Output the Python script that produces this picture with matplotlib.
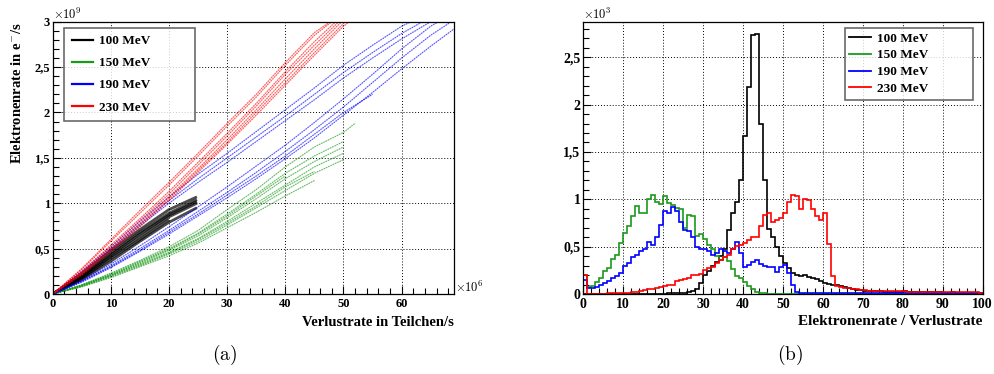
import numpy as np
import matplotlib
matplotlib.use("Agg")
import matplotlib.pyplot as plt
from matplotlib.lines import Line2D
from matplotlib.ticker import MultipleLocator, FuncFormatter

plt.rcParams['font.family'] = ['Liberation Serif', 'DejaVu Serif']
plt.rcParams['font.weight'] = 'bold'
plt.rcParams['mathtext.fontset'] = 'cm'

# ---------------- data: left panel (trajectories, x in 1e6, y in 1e9) ----------------
labels = ['100 MeV', '150 MeV', '190 MeV', '230 MeV']
colors = ['#000000', '#1a9a1a', '#0000ff', '#ff0000']

x100 = [0, 5, 10, 15, 20, 24.8]
y100 = [
    [0, 0.22, 0.48, 0.71, 0.93, 1.07],
    [0, 0.20, 0.45, 0.68, 0.89, 1.04],
    [0, 0.19, 0.43, 0.66, 0.87, 1.02],
    [0, 0.18, 0.41, 0.63, 0.85, 1.00],
    [0, 0.17, 0.39, 0.60, 0.82],
    [0, 0.16, 0.36, 0.58, 0.79, 0.95],
]

x150 = [0, 5, 10, 15, 20, 25, 30, 35, 40, 45, 50, 52]
y150 = [
    [0, 0.10, 0.23, 0.37, 0.52, 0.70, 0.93, 1.15, 1.40, 1.62, 1.78, 1.88],
    [0, 0.10, 0.22, 0.36, 0.50, 0.67, 0.88, 1.10, 1.33, 1.52, 1.68],
    [0, 0.09, 0.21, 0.34, 0.48, 0.64, 0.84, 1.05, 1.27, 1.46, 1.62],
    [0, 0.09, 0.20, 0.33, 0.46, 0.61, 0.80, 1.00, 1.20, 1.40, 1.55],
    [0, 0.08, 0.19, 0.31, 0.44, 0.58, 0.76, 0.95, 1.14, 1.33, 1.48],
    [0, 0.08, 0.18, 0.30, 0.42, 0.56, 0.73, 0.90, 1.08, 1.25],
    [0, 0.09, 0.20, 0.32, 0.45, 0.60, 0.78, 0.97, 1.18, 1.35],
    [0, 0.10, 0.21, 0.35, 0.49, 0.66, 0.86, 1.08, 1.30],
]

x190 = [0, 5, 10, 15, 20, 25, 30, 35, 40, 45, 50, 55, 60, 65, 69]
y190 = [
    [0, 0.15, 0.33, 0.53, 0.74, 0.96, 1.18, 1.41, 1.64, 1.89, 2.15, 2.42, 2.70, 2.95, 3.10],
    [0, 0.14, 0.31, 0.50, 0.70, 0.91, 1.12, 1.34, 1.57, 1.81, 2.06, 2.33, 2.60, 2.85, 3.02],
    [0, 0.13, 0.29, 0.47, 0.66, 0.86, 1.06, 1.27, 1.49, 1.72, 1.97, 2.22, 2.48, 2.73, 2.92],
    [0, 0.14, 0.30, 0.48, 0.68, 0.88, 1.09, 1.30, 1.52, 1.76, 2.00, 2.20],
    [0, 0.25, 0.52, 0.80, 1.07, 1.32, 1.55, 1.79, 2.03, 2.27, 2.52, 2.74, 2.95, 3.10],
    [0, 0.24, 0.50, 0.77, 1.03, 1.27, 1.50, 1.73, 1.96, 2.20, 2.44, 2.66, 2.87, 3.05],
    [0, 0.24, 0.49, 0.75, 1.00, 1.23, 1.45, 1.68, 1.91, 2.14, 2.38, 2.60, 2.81, 3.00],
]

x230 = [0, 5, 10, 15, 20, 25, 30, 35, 40, 45, 50, 52]
y230 = [
    [0, 0.24, 0.52, 0.81, 1.10, 1.42, 1.74, 2.07, 2.42, 2.74, 3.05, 3.15],
    [0, 0.23, 0.50, 0.78, 1.07, 1.38, 1.70, 2.03, 2.37, 2.70, 3.02, 3.12],
    [0, 0.22, 0.48, 0.76, 1.05, 1.36, 1.67, 2.00, 2.33, 2.66, 2.98, 3.10],
    [0, 0.25, 0.54, 0.83, 1.13, 1.45, 1.77, 2.10, 2.45, 2.78, 3.08],
    [0, 0.21, 0.47, 0.74, 1.03, 1.34, 1.65, 1.97, 2.30, 2.63, 2.95, 3.05],
    [0, 0.28, 0.60, 0.92, 1.23, 1.55, 1.88, 2.20, 2.55, 2.88, 3.10],
    [0, 0.27, 0.58, 0.89, 1.20, 1.52, 1.85, 2.17, 2.52, 2.85, 3.10],
]

# ---------------- data: right panel (histograms, counts in 1e3, bin width 1) ----------------
bin_edges = np.arange(0, 101, 1)

h100 = [0.003] * 20 + [0.005, 0.006, 0.007, 0.008,
        0.01, 0.015, 0.02, 0.03, 0.05, 0.12, 0.20, 0.24, 0.30, 0.34, 0.40, 0.48,
        0.68, 0.85, 0.97, 1.20, 1.67, 2.19, 2.73, 2.74, 1.79, 1.20, 0.69, 0.60,
        0.50, 0.40, 0.33, 0.27, 0.22, 0.20, 0.19, 0.20, 0.18, 0.17, 0.16, 0.14,
        0.12, 0.11, 0.10, 0.09, 0.08, 0.07, 0.06, 0.05, 0.045, 0.04, 0.035, 0.035,
        0.03, 0.03, 0.03, 0.025, 0.025, 0.02, 0.025, 0.02, 0.03, 0.02, 0.02, 0.025,
        0.02, 0.02, 0.02, 0.018, 0.02, 0.018, 0.015, 0.015, 0.018, 0.015, 0.012,
        0.015, 0.012, 0.012, 0.01, 0.01]

h150 = [0.20, 0.07, 0.08, 0.13, 0.17, 0.24, 0.27, 0.37, 0.41, 0.54,
        0.64, 0.72, 0.82, 0.93, 0.86, 0.85, 1.00, 1.05, 0.97, 0.95,
        1.03, 0.96, 0.94, 0.91, 0.90, 0.70, 0.83, 0.82, 0.61, 0.63,
        0.58, 0.52, 0.47, 0.40, 0.36, 0.39, 0.35, 0.26, 0.19, 0.17,
        0.13, 0.08, 0.05, 0.02, 0.015, 0.01] + [0.004] * 54

h190 = [0.15, 0.06, 0.06, 0.07, 0.10, 0.12, 0.14, 0.17, 0.19, 0.22,
        0.30, 0.33, 0.39, 0.41, 0.45, 0.48, 0.55, 0.52, 0.60, 0.73,
        0.88, 0.86, 0.92, 0.88, 0.76, 0.68, 0.66, 0.60, 0.50, 0.48,
        0.47, 0.45, 0.41, 0.43, 0.48, 0.45, 0.43, 0.48, 0.55, 0.43,
        0.29, 0.31, 0.34, 0.36, 0.32, 0.30, 0.28, 0.28, 0.23, 0.29,
        0.31, 0.22, 0.10, 0.02] + [0.015] * 20 + [0.01] * 26

h230 = [0.20, 0.005, 0.005, 0.005, 0.005, 0.005, 0.006, 0.007, 0.008, 0.009,
        0.01, 0.015, 0.02, 0.025, 0.03, 0.04, 0.05, 0.055, 0.06, 0.07,
        0.08, 0.09, 0.10, 0.14, 0.15, 0.16, 0.17, 0.20, 0.20, 0.21,
        0.25, 0.27, 0.29, 0.33, 0.36, 0.39, 0.41, 0.47, 0.51, 0.52,
        0.54, 0.57, 0.60, 0.60, 0.72, 0.83, 0.85, 0.76, 0.78, 0.80,
        0.85, 0.97, 1.05, 1.03, 0.90, 1.00, 0.99, 0.90, 0.82, 0.78,
        0.85, 0.53, 0.19, 0.08, 0.07, 0.06, 0.06, 0.05, 0.05, 0.045,
        0.04, 0.035, 0.035, 0.035, 0.03, 0.03, 0.03, 0.03, 0.03, 0.03,
        0.03, 0.025, 0.025, 0.025, 0.025, 0.025, 0.025, 0.025, 0.025, 0.025,
        0.025, 0.025, 0.025, 0.025, 0.025, 0.025, 0.025, 0.025, 0.02, 0.01]

# ---------------- figure ----------------
fig = plt.figure(figsize=(9.94, 3.74), dpi=100)
axL = fig.add_axes([0.0530, 0.2139, 0.4037, 0.7281])
axR = fig.add_axes([0.5868, 0.2139, 0.4018, 0.7281])


def comma_fmt(v, pos):
    if abs(v - round(v)) < 1e-9:
        return '%d' % round(v)
    return ('%g' % v).replace('.', ',')


def style_axes(ax, fs):
    ax.tick_params(which='both', direction='in', top=False, right=False,
                   labelsize=fs, width=0.8)
    ax.tick_params(which='major', length=6)
    ax.tick_params(which='minor', length=4)
    ax.tick_params(axis='x', pad=3)
    ax.tick_params(axis='y', pad=2)
    ax.grid(True, which='major', linestyle=(0, (1, 2)), color='black', linewidth=0.7)
    ax.set_axisbelow(True)
    for s in ax.spines.values():
        s.set_linewidth(0.9)
    for t in ax.get_xticklabels() + ax.get_yticklabels():
        t.set_fontweight('bold')


# ---- left panel ----
series_L = [(x100, y100), (x150, y150), (x190, y190), (x230, y230)]
for (xs, ys), c in zip(series_L, colors):
    for yy in ys:
        xx = xs[:len(yy)]
        if c == '#000000':
            axL.plot(xx, yy, color=c, lw=2.0, alpha=0.7, solid_capstyle='butt')
        else:
            axL.plot(xx, yy, color=c, lw=0.9, alpha=0.55, linestyle=(0, (1, 1.0)))
            axL.plot(xx, yy, color=c, lw=0.45, alpha=0.4)

axL.set_xlim(0, 69)
axL.set_ylim(0, 3)
axL.xaxis.set_major_locator(MultipleLocator(10))
axL.xaxis.set_minor_locator(MultipleLocator(2))
axL.yaxis.set_major_locator(MultipleLocator(0.5))
axL.yaxis.set_minor_locator(MultipleLocator(0.1))
axL.yaxis.set_major_formatter(FuncFormatter(comma_fmt))
style_axes(axL, 9)

handles = [Line2D([], [], color=c, lw=1.6) for c in colors]
legL = axL.legend(handles, labels, loc='upper left', bbox_to_anchor=(0.029, 0.651, 0.3256, 0.327),
                  mode='expand', fontsize=9.5, frameon=True, fancybox=False,
                  handlelength=1.6, handletextpad=0.5, labelspacing=0.75,
                  borderpad=0.55, borderaxespad=0)
legL.get_frame().set_edgecolor('#444444')
legL.get_frame().set_linewidth(1.2)
for t in legL.get_texts():
    t.set_fontweight('bold')

axL.text(1.0, -0.1175, 'Verlustrate in Teilchen/s', transform=axL.transAxes,
         ha='right', va='baseline', fontsize=10.5, fontweight='bold')
axL.text(-0.0877, 0.999, 'Elektronenrate in e$^{-}$/s', transform=axL.transAxes,
         rotation=90, ha='center', va='top', fontsize=10.5, fontweight='bold')
axL.text(0.0, 1.0, r'$\times10^{9}$', transform=axL.transAxes, ha='left', va='bottom', fontsize=9)
axL.text(1.003, -0.005, r'$\times10^{6}$', transform=axL.transAxes, ha='left', va='bottom', fontsize=9)

# ---- right panel ----
hists = [h100, h150, h190, h230]
for h, c in zip(hists, colors):
    axR.stairs(h, bin_edges, color=c, lw=1.2, baseline=None)

axR.set_xlim(0, 100)
axR.set_ylim(0, 2.875)
axR.xaxis.set_major_locator(MultipleLocator(10))
axR.xaxis.set_minor_locator(MultipleLocator(2))
axR.yaxis.set_major_locator(MultipleLocator(0.5))
axR.yaxis.set_minor_locator(MultipleLocator(0.1))
axR.yaxis.set_major_formatter(FuncFormatter(comma_fmt))
style_axes(axR, 10)

handles = [Line2D([], [], color=c, lw=1.3) for c in colors]
legR = axR.legend(handles, labels, loc='upper left', bbox_to_anchor=(0.655, 0.715, 0.32, 0.263),
                  mode='expand', fontsize=9.5, frameon=True, fancybox=False,
                  handlelength=1.6, handletextpad=0.5, labelspacing=0.35,
                  borderpad=0.35, borderaxespad=0)
legR.get_frame().set_edgecolor('#444444')
legR.get_frame().set_linewidth(1.2)
for t in legR.get_texts():
    t.set_fontweight('bold')

axR.text(1.0, -0.114, 'Elektronenrate / Verlustrate', transform=axR.transAxes,
         ha='right', va='baseline', fontsize=11, fontweight='bold')
axR.text(0.0, 1.0, r'$\times10^{3}$', transform=axR.transAxes, ha='left', va='bottom', fontsize=9)

# ---- sub-captions ----
fig.text(225 / 994, 1 - 355 / 374, r'$\mathrm{(a)}$', ha='center', va='center', fontsize=14)
fig.text(790 / 994, 1 - 355 / 374, r'$\mathrm{(b)}$', ha='center', va='center', fontsize=14)

fig.savefig('out.png', dpi=100)
